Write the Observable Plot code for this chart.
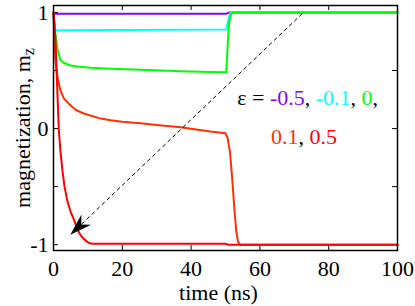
<!DOCTYPE html>
<html>
<head>
<meta charset="utf-8">
<script src="https://cdn.jsdelivr.net/npm/d3@7"></script>
<script src="https://cdn.jsdelivr.net/npm/@observablehq/plot@0.6"></script>
<style>
  body { margin: 0; background: #fff; }
</style>
</head>
<body>
<div id="chart"></div>
<script>
// ---- data ----
const epsValues = ["-0.5", "-0.1", "0", "0.1", "0.5"];
const seriesColors = ["#8b00ff", "#00ffff", "#00ff00", "#ff3000", "#ff0000"];

const tPurple = [0, 0.3, 50.2, 51.2, 100];
const mPurple = [1.0, 0.99, 0.99, 1.0, 1.0];

const tCyan = [0, 0.3, 0.6, 5, 20, 35, 50.2, 50.8, 51.4, 100];
const mCyan = [1.0, 0.9, 0.845, 0.846, 0.849, 0.851, 0.853, 0.93, 1.0, 1.0];

const tGreen = [0, 0.4, 0.87, 1.1, 2.0, 3.0, 4.9, 7.5, 10.8, 16.6, 25.3, 36.9, 45.6, 50.2, 50.6, 51.0, 51.5, 52.0, 100];
const mGreen = [1.0, 0.84, 0.757, 0.69, 0.59, 0.565, 0.543, 0.532, 0.523, 0.515, 0.507, 0.494, 0.487, 0.485, 0.7, 0.9, 0.98, 1.0, 1.0];

const tOrange = [0, 0.3, 0.6, 0.87, 1.3, 2.0, 3.0, 4.9, 6.5, 8.8, 13.7, 16.6, 20, 25.3, 30, 36.9, 45.6, 50.0, 50.6, 51.3, 52.0, 52.6, 53.1, 53.6, 54.2, 100];
const mOrange = [1.0, 0.75, 0.58, 0.5, 0.42, 0.33, 0.26, 0.2, 0.16, 0.13, 0.086, 0.071, 0.058, 0.045, 0.03, 0.011, -0.025, -0.04, -0.08, -0.2, -0.45, -0.7, -0.88, -0.97, -1.0, -1.0];

const tRed = [0, 0.3, 0.58, 0.87, 1.2, 1.54, 2.0, 2.6, 3.2, 4.0, 5.0, 5.9, 7.0, 7.8, 8.8, 9.8, 10.8, 11.6, 50.0, 50.8, 100];
const mRed = [1.0, 0.9, 0.757, 0.53, 0.26, -0.01, -0.19, -0.36, -0.5, -0.62, -0.72, -0.78, -0.87, -0.915, -0.95, -0.975, -0.99, -0.992, -0.992, -1.0, -1.0];

const xTicks = [0, 20, 40, 60, 80, 100];
const yTicks = [-1, -0.5, 0, 0.5, 1];
const yTickLabels = [-1, 0, 1];

const xLabel = "time (ns)";
const yLabel = "magnetization, m";
const yLabelSub = "z";

// dashed arrow (data coordinates)
const arrowFrom = {t: 72.3, m: 0.99};
const arrowTo = {t: 4.9, m: -0.915};

// legend annotation: two lines of coloured segments
const legendLine1 = [["ε = ", "black"], ["-0.5", seriesColors[0]], [", ", "black"], ["-0.1", seriesColors[1]], [", ", "black"], ["0", seriesColors[2]], [",", "black"]];
const legendLine2 = [["0.1", seriesColors[3]], [", ", "black"], ["0.5", seriesColors[4]]];
const legendPos = [{t: 73.9, m: 0.2}, {t: 72.8, m: -0.13}];

// ---- build ----
const W = 415, H = 306, mL = 53, mR = 18, mT = 5, mB = 56;
const xDomain = [0, 100], yDomain = [-1.05, 1.06];
const tickLen = 5;

const toRows = (T, M) => T.map((t, i) => ({t, m: M[i]}));
const series = [
  toRows(tPurple, mPurple),
  toRows(tCyan, mCyan),
  toRows(tGreen, mGreen),
  toRows(tOrange, mOrange),
  toRows(tRed, mRed)
];

const kx = (W - mL - mR) / (xDomain[1] - xDomain[0]);
const ky = (H - mT - mB) / (yDomain[1] - yDomain[0]);
const sdx = (arrowTo.t - arrowFrom.t) * kx;
const sdy = -(arrowTo.m - arrowFrom.m) * ky;
const arrowAngle = Math.atan2(sdx, -sdy) * 180 / Math.PI;

const headShape = {
  draw(context, l) {
    const wing = 7, back = 22, notch = 15;
    context.moveTo(0, -l);
    context.lineTo(wing, -l + back);
    context.lineTo(0, -l + notch);
    context.lineTo(-wing, -l + back);
    context.closePath();
  }
};

const legendSegs = [legendLine1, legendLine2];
const legendRows = legendSegs.map((segs, i) => ({...legendPos[i], text: segs.map(s => s[0]).join("")}));

const fontFam = "'Liberation Serif', 'Times New Roman', serif";

const plot = Plot.plot({
  width: W, height: H,
  marginLeft: mL, marginRight: mR, marginTop: mT, marginBottom: mB,
  style: {fontFamily: fontFam, fontSize: "22px", color: "black", background: "white"},
  x: {domain: xDomain},
  y: {domain: yDomain},
  marks: [
    Plot.ruleX(xTicks, {x: d => d, insetTop: H - mT - mB - tickLen, stroke: "black", strokeWidth: 1}),
    Plot.ruleX(xTicks, {x: d => d, insetBottom: H - mT - mB - tickLen, stroke: "black", strokeWidth: 1}),
    Plot.ruleY(yTicks, {y: d => d, insetRight: W - mL - mR - tickLen, stroke: "black", strokeWidth: 1}),
    Plot.ruleY(yTicks, {y: d => d, insetLeft: W - mL - mR - tickLen, stroke: "black", strokeWidth: 1}),
    Plot.axisX({ticks: xTicks, tickSize: 0, tickPadding: 10, label: null, tickFormat: d => String(d), fontSize: 22, fontFamily: fontFam}),
    Plot.axisY({ticks: yTickLabels, tickSize: 0, tickPadding: 5, label: null, tickFormat: d => String(d), fontSize: 22, fontFamily: fontFam}),
    ...series.map((rows, i) => Plot.line(rows, {x: "t", y: "m", stroke: seriesColors[i], strokeWidth: 2})),
    Plot.link([{from: arrowFrom, to: arrowTo}], {
      x1: d => d.from.t, y1: d => d.from.m, x2: d => d.to.t, y2: d => d.to.m,
      stroke: "black", strokeWidth: 1, strokeDasharray: "4,3"
    }),
    Plot.vector([arrowTo], {x: "t", y: "m", rotate: arrowAngle, length: 22, anchor: "end", shape: headShape, fill: "black", stroke: "none"}),
    Plot.text(legendRows, {x: "t", y: "m", text: "text", textAnchor: "middle", lineAnchor: "bottom", fill: "black", fontSize: 22, fontFamily: fontFam}),
    Plot.text([xLabel], {frameAnchor: "bottom", dy: 49, dx: -7, textAnchor: "middle", lineAnchor: "bottom", fill: "black", fontSize: 22, fontFamily: fontFam}),
    Plot.text([yLabel], {frameAnchor: "left", dx: -24, rotate: -90, textAnchor: "middle", lineAnchor: "bottom", fill: "black", fontSize: 22, fontFamily: fontFam}),
    Plot.frame({stroke: "black", strokeWidth: 1.5})
  ]
});

// colour the legend segments (match the text elements by their content)
const allTexts = d3.select(plot).selectAll("text");
legendRows.forEach((row, i) => {
  allTexts.filter(function() { return this.textContent === row.text; }).each(function() {
    const el = d3.select(this);
    el.text(null);
    legendSegs[i].forEach(([txt, col]) => el.append("tspan").attr("fill", col).style("fill", col).text(txt));
  });
});
// subscript on the y label
allTexts.filter(function() { return this.textContent === yLabel; }).each(function() {
  d3.select(this).append("tspan").attr("dy", "0.28em").attr("font-size", "16px").text(yLabelSub);
});

document.getElementById("chart").appendChild(plot);
</script>
</body>
</html>
